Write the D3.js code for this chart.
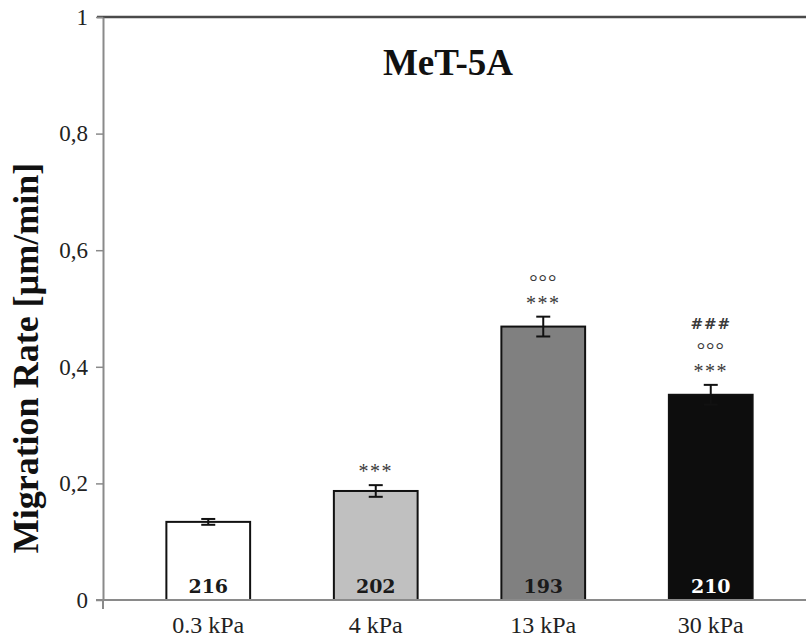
<!DOCTYPE html>
<html>
<head>
<meta charset="utf-8">
<script src="https://cdn.jsdelivr.net/npm/d3@7"></script>
<style>
  body { margin: 0; background: #fff; }
  svg { display: block; }
</style>
</head>
<body>
<div id="chart"></div>
<script>
// values
const categories = ["0.3 kPa", "4 kPa", "13 kPa", "30 kPa"];
const rates = [0.134, 0.187, 0.469, 0.352];
const errors = [0.005, 0.010, 0.017, 0.017];
const counts = [216, 202, 193, 210];
const marks = [[], ["***"], ["***", "°°°"], ["***", "°°°", "###"]];
const yTicks = [0, 0.2, 0.4, 0.6, 0.8, 1];

const width = 806;
const height = 640;

const bars = categories.map((c, i) => ({
  cat: c,
  rate: rates[i],
  err: errors[i],
  n: counts[i],
  marks: marks[i],
}));

const svg = d3
  .select("#chart")
  .append("svg")
  .attr("width", width)
  .attr("height", height);

const x = d3
  .scaleBand()
  .domain(categories)
  .range([124.5, 794.5])
  .paddingInner(0.5)
  .paddingOuter(0.25);

const y = d3.scaleLinear().domain([0, 1]).range([600, 17]);

const fill = d3
  .scaleOrdinal()
  .domain(categories)
  .range(["#ffffff", "#c0c0c0", "#808080", "#0d0d0d"]);
const numColor = d3
  .scaleOrdinal()
  .domain(categories)
  .range(["#1a1a1a", "#1a1a1a", "#1a1a1a", "#ffffff"]);

const serif = "'Liberation Serif', 'DejaVu Serif', serif";

// top frame line
svg
  .append("line")
  .attr("x1", 97)
  .attr("x2", width)
  .attr("y1", y(1))
  .attr("y2", y(1))
  .attr("stroke", "#4a4a4a")
  .attr("stroke-width", 2.5);

// y axis
const yAxis = svg
  .append("g")
  .attr("transform", "translate(103,0)")
  .call(
    d3
      .axisLeft(y)
      .tickValues(yTicks)
      .tickSize(7)
      .tickSizeOuter(0)
      .tickPadding(8)
      .tickFormat((d) => d3.format("~g")(d).replace(".", ","))
  );
yAxis.select(".domain").attr("stroke", "#8a8a8a").attr("stroke-width", 2);
yAxis.selectAll(".tick line").attr("stroke", "#8a8a8a").attr("stroke-width", 1.5);
yAxis
  .selectAll(".tick text")
  .attr("font-family", serif)
  .attr("font-size", 23)
  .attr("fill", "#222");

// axis stub below zero
svg
  .append("line")
  .attr("x1", 103)
  .attr("x2", 103)
  .attr("y1", y(0))
  .attr("y2", 609)
  .attr("stroke", "#8a8a8a")
  .attr("stroke-width", 2);

// bars
svg
  .append("g")
  .selectAll("rect")
  .data(bars)
  .join("rect")
  .attr("x", (d) => x(d.cat))
  .attr("y", (d) => y(d.rate))
  .attr("width", x.bandwidth())
  .attr("height", (d) => y(0) - y(d.rate))
  .attr("fill", (d) => fill(d.cat))
  .attr("stroke", "#111")
  .attr("stroke-width", 2);

// x axis line
svg
  .append("line")
  .attr("x1", 96)
  .attr("x2", width)
  .attr("y1", y(0))
  .attr("y2", y(0))
  .attr("stroke", "#8a8a8a")
  .attr("stroke-width", 2);

// error bars
const eb = svg.append("g").attr("stroke", "#111").attr("stroke-width", 2);
bars.forEach((d) => {
  const cx = x(d.cat) + x.bandwidth() / 2;
  const top = y(d.rate + d.err);
  const bot = y(d.rate - d.err);
  eb.append("line").attr("x1", cx).attr("x2", cx).attr("y1", top).attr("y2", bot);
  eb.append("line").attr("x1", cx - 7).attr("x2", cx + 7).attr("y1", top).attr("y2", top);
  eb.append("line").attr("x1", cx - 7).attr("x2", cx + 7).attr("y1", bot).attr("y2", bot);
});

// significance marks
bars.forEach((d) => {
  const cx = x(d.cat) + x.bandwidth() / 2;
  const top = y(d.rate + d.err);
  d.marks.forEach((m, i) => {
    const isHash = m === "###";
    svg
      .append("text")
      .attr("x", cx)
      .attr("y", top - 17 - 22 * i)
      .attr("dy", m === "***" ? "0.5em" : m === "°°°" ? "0.55em" : "0.36em")
      .attr("text-anchor", "middle")
      .attr("font-family", isHash ? "'DejaVu Serif', serif" : serif)
      .attr("font-size", isHash ? 15 : m === "***" ? 20 : 21)
      .attr("font-weight", isHash ? "bold" : "normal")
      .attr("letter-spacing", m === "***" ? 1.5 : 1)
      .attr("fill", "#3a3a3a")
      .text(m);
  });
});

// counts inside bars
svg
  .append("g")
  .selectAll("text")
  .data(bars)
  .join("text")
  .attr("x", (d) => x(d.cat) + x.bandwidth() / 2)
  .attr("y", 593)
  .attr("text-anchor", "middle")
  .attr("font-family", "'DejaVu Serif', serif")
  .attr("font-weight", "bold")
  .attr("font-size", 19)
  .attr("fill", (d) => numColor(d.cat))
  .text((d) => d.n);

// category labels
svg
  .append("g")
  .selectAll("text")
  .data(bars)
  .join("text")
  .attr("x", (d) => x(d.cat) + x.bandwidth() / 2)
  .attr("y", 633)
  .attr("text-anchor", "middle")
  .attr("font-family", serif)
  .attr("font-size", 24)
  .attr("fill", "#222")
  .text((d) => d.cat);

// title
svg
  .append("text")
  .attr("x", 448)
  .attr("y", 75)
  .attr("text-anchor", "middle")
  .attr("font-family", serif)
  .attr("font-weight", "bold")
  .attr("font-size", 37)
  .attr("fill", "#111")
  .text("MeT-5A");

// y axis title
svg
  .append("text")
  .attr("transform", "translate(38,358) rotate(-90)")
  .attr("text-anchor", "middle")
  .attr("font-family", serif)
  .attr("font-weight", "bold")
  .attr("font-size", 36)
  .attr("fill", "#111")
  .text("Migration Rate [µm/min]");
</script>
</body>
</html>
